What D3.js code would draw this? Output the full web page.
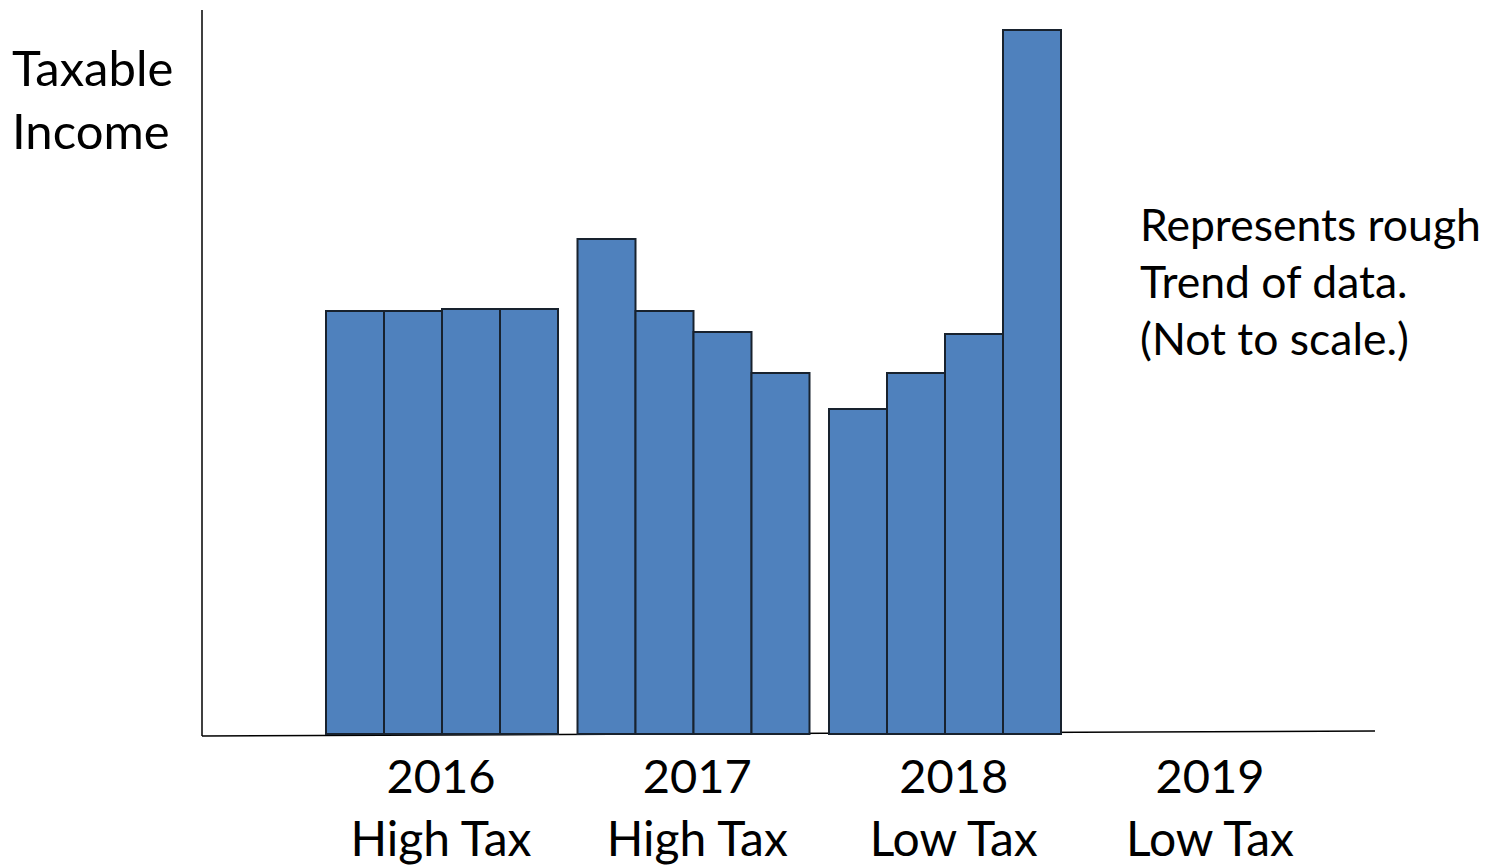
<!DOCTYPE html>
<html>
<head>
<meta charset="utf-8">
<script src="https://cdn.jsdelivr.net/npm/d3@7"></script>
<style>
  html, body { margin: 0; padding: 0; background: #fff; }
  svg { display: block; }
  text { font-family: Lato, "Open Sans", sans-serif; fill: #000; }
</style>
</head>
<body>
<svg id="chart" width="1488" height="865"></svg>
<script>
// ---- data ----
const years = ["2016", "2017", "2018", "2019"];
const taxLabels = ["High Tax", "High Tax", "Low Tax", "Low Tax"];
const quarters = ["Q1", "Q2", "Q3", "Q4"];
const values2016 = [423, 423, 425, 425];
const values2017 = [495, 423, 402, 361];
const values2018 = [325, 361, 400, 704];
const yTitle = ["Taxable", "Income"];
const note = ["Represents rough", "Trend of data.", "(Not to scale.)"];

const series = [
  { year: "2016", values: values2016 },
  { year: "2017", values: values2017 },
  { year: "2018", values: values2018 }
];

// ---- layout ----
const svg = d3.select("#chart");
const baseY = 734;
const axisX = 202;

const y = d3.scaleLinear().domain([0, 734]).range([baseY, 0]);

const step = 251.5, gap = 19.5;
const x = d3.scaleBand()
  .domain(years)
  .range([326, 326 + years.length * step - gap])
  .paddingInner(gap / step)
  .paddingOuter(0);

const xq = d3.scaleBand().domain(quarters).range([0, x.bandwidth()]).padding(0);

const xLabel = d3.scalePoint().domain(years).range([441, 1210]);

// axes lines
svg.append("line")
  .attr("x1", axisX).attr("y1", 10)
  .attr("x2", axisX).attr("y2", 736)
  .attr("stroke", "#000").attr("stroke-width", 1.5);
svg.append("line")
  .attr("x1", axisX).attr("y1", 736)
  .attr("x2", 1375).attr("y2", 731)
  .attr("stroke", "#000").attr("stroke-width", 1.5);

// bars
const groups = svg.selectAll("g.year")
  .data(series)
  .join("g")
  .attr("class", "year")
  .attr("transform", d => `translate(${x(d.year)},0)`);

groups.selectAll("rect")
  .data(d => d.values.map((v, i) => ({ q: quarters[i], v })))
  .join("rect")
  .attr("x", d => xq(d.q))
  .attr("width", xq.bandwidth())
  .attr("y", d => y(d.v))
  .attr("height", d => y(0) - y(d.v))
  .attr("fill", "#4F81BD")
  .attr("stroke", "#18222e")
  .attr("stroke-width", 2);

// year labels
svg.selectAll("text.yr")
  .data(years)
  .join("text")
  .attr("class", "yr")
  .attr("x", d => xLabel(d))
  .attr("y", 793)
  .attr("text-anchor", "middle")
  .style("font-size", "47px")
  .text(d => d);

svg.selectAll("text.tax")
  .data(years)
  .join("text")
  .attr("class", "tax")
  .attr("x", d => xLabel(d))
  .attr("y", 856)
  .attr("text-anchor", "middle")
  .style("font-size", "48px")
  .text((d, i) => taxLabels[i]);

// y title
svg.selectAll("text.yt")
  .data(yTitle)
  .join("text")
  .attr("class", "yt")
  .attr("x", 12)
  .attr("y", (d, i) => 86 + i * 63)
  .style("font-size", "49px")
  .text(d => d);

// note
svg.selectAll("text.note")
  .data(note)
  .join("text")
  .attr("class", "note")
  .attr("x", 1140)
  .attr("y", (d, i) => 241 + i * 57)
  .style("font-size", "44.5px")
  .text(d => d);
</script>
</body>
</html>
